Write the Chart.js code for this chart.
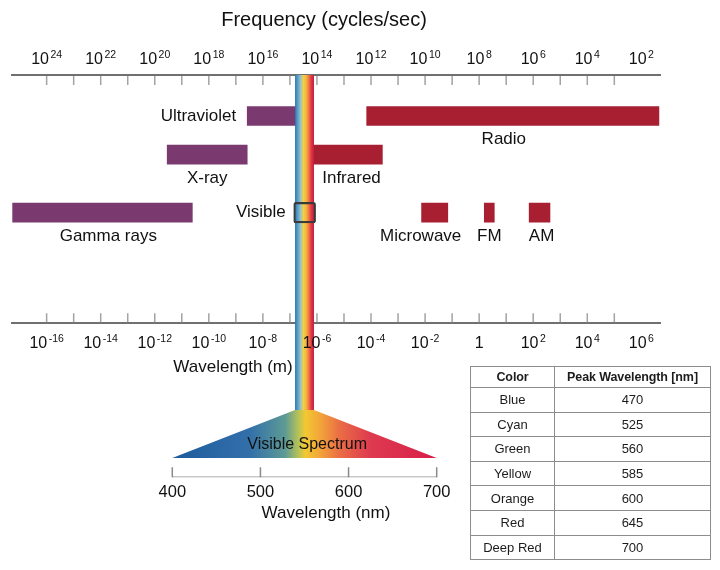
<!DOCTYPE html>
<html>
<head>
<meta charset="utf-8">
<script src="https://cdn.jsdelivr.net/npm/chart.js@4.4.1/dist/chart.umd.min.js"></script>
<style>
  body { margin: 0; background: #fff; }
  #wrap { position: relative; width: 720px; height: 570px; font-family: 'Liberation Sans', Arial, sans-serif; }
  canvas { position: absolute; left: 0; top: 0; }
  #peaks { position: absolute; left: 470px; top: 366px; width: 241px; border-collapse: collapse; font-size: 13px; color: #1c1c1c; }
  #peaks th, #peaks td { border: 1px solid #8d8d8d; text-align: center; padding: 0; }
  #peaks th { height: 20px; font-size: 12.5px; font-weight: bold; letter-spacing: -0.1px; }
  #peaks th:first-child { width: 83px; }
  #peaks td { height: 23.6px; }
</style>
</head>
<body>
<div id="wrap">
  <canvas id="spectrum" width="720" height="570"></canvas>
  <canvas id="visible" width="720" height="570"></canvas>
  <table id="peaks"></table>
</div>
<script>
// wavelengths as log10(metres)
const bandNames = ['Ultraviolet', 'Radio', 'X-ray', 'Infrared', 'Gamma rays', 'Microwave', 'FM', 'AM'];
const bandStart = [-8.58, -4.16, -11.54, -6.16, -17.27, -2.13, 0.19, 1.85];
const bandEnd = [-6.78, 6.65, -8.58, -3.58, -10.61, -1.16, 0.56, 2.62];
const bandRow = [1, 1, 2, 2, 3.5, 3.5, 3.5, 3.5];

const visibleBox = [-6.86, -6.05];
const visibleStrip = [-6.81, -6.11];
const visibleRow = 3.5;

const wavelengthTicks = [-16, -14, -12, -10, -8, -6, -4, -2, 0, 2, 4, 6];
const frequencyTicks = [24, 22, 20, 18, 16, 14, 12, 10, 8, 6, 4, 2];

const nmTicks = [400, 500, 600, 700];
const spectrumNm = [400, 488, 528, 543, 551, 568, 590, 624, 700];
const spectrumColors = ['#1c5a9c', '#3370aa', '#5d9a95', '#b5c258', '#f3c832', '#f2a43a', '#ea6d45', '#de3b4f', '#d81d4a'];

const colorNames = ['Blue', 'Cyan', 'Green', 'Yellow', 'Orange', 'Red', 'Deep Red'];
const peakNm = [470, 525, 560, 585, 600, 645, 700];

const FONT = "'Liberation Sans', Arial, Helvetica, sans-serif";
const INK = '#111';
const purple = '#7a3a70';
const red = '#a81f32';
const apexY = 410;

// label placement next to each band (style only)
const labelSide = ['left', 'below', 'below', 'below', 'below', 'below', 'below', 'below'];
const labelShift = [0, -9, 0, 4, 6, -14, 0, 2];

Chart.defaults.font.family = FONT;

// "10" with a raised exponent, centred on x
function drawPower(ctx, x, y, exp) {
    ctx.textAlign = 'left';
    ctx.textBaseline = 'alphabetic';
    if (exp === 0) {
        ctx.font = `16px ${FONT}`;
        ctx.textAlign = 'center';
        ctx.fillText('1', x, y);
        return;
    }
    const sup = String(exp);
    ctx.font = `16px ${FONT}`;
    const wb = ctx.measureText('10').width;
    ctx.font = `10.5px ${FONT}`;
    const ws = ctx.measureText(sup).width;
    const x0 = x - (wb + ws + 1.5) / 2;
    ctx.font = `16px ${FONT}`;
    ctx.fillText('10', x0, y);
    ctx.font = `10.5px ${FONT}`;
    ctx.fillText(sup, x0 + wb + 1.5, y - 6);
}

function isWhole(v) {
    return Math.abs(v - Math.round(v)) < 1e-6;
}

const axisDecor = {
    id: 'axisDecor',
    beforeDatasetsDraw(chart) {
        const {ctx, chartArea: a} = chart;
        ctx.save();
        ctx.strokeStyle = '#a3a3a3';
        ctx.lineWidth = 1.5;
        ctx.beginPath();
        chart.scales.x2.ticks.forEach(t => {
            if (!isWhole(t.value)) return;
            const px = chart.scales.x2.getPixelForValue(t.value);
            ctx.moveTo(px, a.top + 1);
            ctx.lineTo(px, a.top + 10);
        });
        chart.scales.x.ticks.forEach(t => {
            if (!isWhole(t.value)) return;
            const px = chart.scales.x.getPixelForValue(t.value);
            ctx.moveTo(px, a.bottom - 10);
            ctx.lineTo(px, a.bottom - 1);
        });
        ctx.stroke();

        ctx.fillStyle = INK;
        frequencyTicks.forEach(f => drawPower(ctx, chart.scales.x2.getPixelForValue(f), a.top - 11.5, f));

        ctx.textAlign = 'center';
        ctx.textBaseline = 'middle';
        ctx.font = `20px ${FONT}`;
        ctx.fillText('Frequency (cycles/sec)', 324, 20);
        ctx.font = `17px ${FONT}`;
        ctx.fillText('Wavelength (m)', 233, 367);
        ctx.restore();
    },
    afterDatasetDraw(chart, args) {
        if (args.index !== 1) return;
        // rainbow strip for the visible range, runs down to the spectrum fan
        const {ctx, chartArea: a} = chart;
        const l = chart.scales.x.getPixelForValue(visibleStrip[0]);
        const r = chart.scales.x.getPixelForValue(visibleStrip[1]);
        const g = ctx.createLinearGradient(l, 0, r, 0);
        g.addColorStop(0, '#2f6fae');
        g.addColorStop(0.12, '#4f9ac8');
        g.addColorStop(0.3, '#9cc3c8');
        g.addColorStop(0.45, '#f2d23a');
        g.addColorStop(0.6, '#f5b043');
        g.addColorStop(0.75, '#ec6a45');
        g.addColorStop(0.88, '#dc2f45');
        g.addColorStop(1, '#c41f3f');
        ctx.save();
        ctx.fillStyle = g;
        ctx.fillRect(l, a.top, r - l, apexY - a.top);
        ctx.restore();
    },
    afterDatasetsDraw(chart) {
        const {ctx, chartArea: a} = chart;
        ctx.save();
        ctx.fillStyle = INK;
        wavelengthTicks.forEach(w => drawPower(ctx, chart.scales.x.getPixelForValue(w), a.bottom + 24.5, w));

        ctx.font = `17px ${FONT}`;
        ctx.textBaseline = 'middle';
        chart.getDatasetMeta(1).data.forEach((bar, i) => {
            const left = Math.min(bar.x, bar.base);
            const right = Math.max(bar.x, bar.base);
            if (labelSide[i] === 'left') {
                ctx.textAlign = 'right';
                ctx.fillText(bandNames[i], left - 11, bar.y);
            } else {
                ctx.textAlign = 'center';
                ctx.fillText(bandNames[i], (left + right) / 2 + labelShift[i], bar.y + bar.height / 2 + 14);
            }
        });
        const box = chart.getDatasetMeta(0).data[0];
        ctx.textAlign = 'right';
        ctx.fillText('Visible', Math.min(box.x, box.base) - 8, box.y);
        ctx.restore();
    }
};

const mainChart = new Chart(document.getElementById('spectrum'), {
    type: 'bar',
    data: {
        datasets: [
            {
                label: 'Visible',
                data: [{x: visibleBox, y: visibleRow}],
                backgroundColor: 'rgba(0,0,0,0)',
                borderColor: '#3a3a3a',
                borderWidth: 1.5,
                borderSkipped: false,
                borderRadius: 2,
                barThickness: 20.5,
                grouped: false
            },
            {
                label: 'Bands',
                data: bandNames.map((n, i) => ({x: [bandStart[i], bandEnd[i]], y: bandRow[i]})),
                backgroundColor: bandStart.map(s => s < visibleStrip[0] ? purple : red),
                barThickness: 19,
                grouped: false
            }
        ]
    },
    options: {
        indexAxis: 'y',
        responsive: false,
        animation: false,
        layout: {
            padding: {left: 12.3, right: 60, top: 75, bottom: 246.7}
        },
        plugins: {
            legend: {display: false},
            tooltip: {enabled: false}
        },
        scales: {
            x: {
                type: 'linear',
                position: 'bottom',
                min: -17.27,
                max: 6.69,
                ticks: {display: false, stepSize: 1},
                grid: {display: false, drawTicks: false},
                border: {color: '#707070', width: 2}
            },
            x2: {
                type: 'linear',
                position: 'top',
                reverse: true,
                min: 8 - 6.69,
                max: 8 + 17.27,
                ticks: {display: false, stepSize: 1},
                grid: {display: false, drawTicks: false},
                border: {color: '#707070', width: 2}
            },
            y: {
                type: 'linear',
                reverse: true,
                offset: false,
                min: -0.06,
                max: 6.36,
                display: false
            }
        }
    },
    plugins: [axisDecor]
});

const fan = {
    id: 'fan',
    beforeDatasetsDraw(chart) {
        const {ctx, chartArea: a} = chart;
        const xs = chart.scales.x;
        const mx = mainChart.scales.x;
        const l = xs.getPixelForValue(400);
        const r = xs.getPixelForValue(700);
        const tl = mx.getPixelForValue(visibleStrip[0]);
        const tr = mx.getPixelForValue(visibleStrip[1]);
        const baseY = a.bottom - 19.3;
        const g = ctx.createLinearGradient(l, 0, r, 0);
        spectrumNm.forEach((nm, i) => g.addColorStop((nm - 400) / 300, spectrumColors[i]));
        ctx.save();
        ctx.fillStyle = g;
        ctx.beginPath();
        ctx.moveTo(tl, a.top);
        ctx.lineTo(tr, a.top);
        ctx.lineTo(r, baseY);
        ctx.lineTo(l, baseY);
        ctx.closePath();
        ctx.fill();

        // short upward tick marks
        ctx.strokeStyle = '#8a8a8a';
        ctx.lineWidth = 1.5;
        ctx.beginPath();
        xs.ticks.forEach(t => {
            const px = xs.getPixelForValue(t.value);
            ctx.moveTo(px, a.bottom - 10);
            ctx.lineTo(px, a.bottom);
        });
        ctx.stroke();

        ctx.fillStyle = INK;
        ctx.textAlign = 'center';
        ctx.textBaseline = 'middle';
        ctx.font = `16px ${FONT}`;
        ctx.fillText('Visible Spectrum', xs.getPixelForValue(553), 445);
        ctx.font = `17px ${FONT}`;
        ctx.fillText('Wavelength (nm)', 326, 513);
        ctx.restore();
    }
};

new Chart(document.getElementById('visible'), {
    type: 'scatter',
    data: {datasets: [{data: []}]},
    options: {
        responsive: false,
        animation: false,
        layout: {
            padding: {left: 172.3, right: 283.3, top: apexY, bottom: 63}
        },
        plugins: {
            legend: {display: false},
            tooltip: {enabled: false}
        },
        scales: {
            x: {
                type: 'linear',
                min: 400,
                max: 700,
                afterBuildTicks: scale => {
                    scale.ticks = nmTicks.map(v => ({value: v}));
                },
                ticks: {font: {size: 16.5}, color: INK, padding: 5},
                grid: {display: false, drawTicks: false},
                border: {color: '#c8c8c8', width: 1.5}
            },
            y: {display: false, min: 0, max: 1}
        }
    },
    plugins: [fan]
});

const table = document.getElementById('peaks');
let rows = '<tr><th>Color</th><th>Peak Wavelength [nm]</th></tr>';
colorNames.forEach((c, i) => {
    rows += `<tr><td>${c}</td><td>${peakNm[i]}</td></tr>`;
});
table.innerHTML = rows;
</script>
</body>
</html>
